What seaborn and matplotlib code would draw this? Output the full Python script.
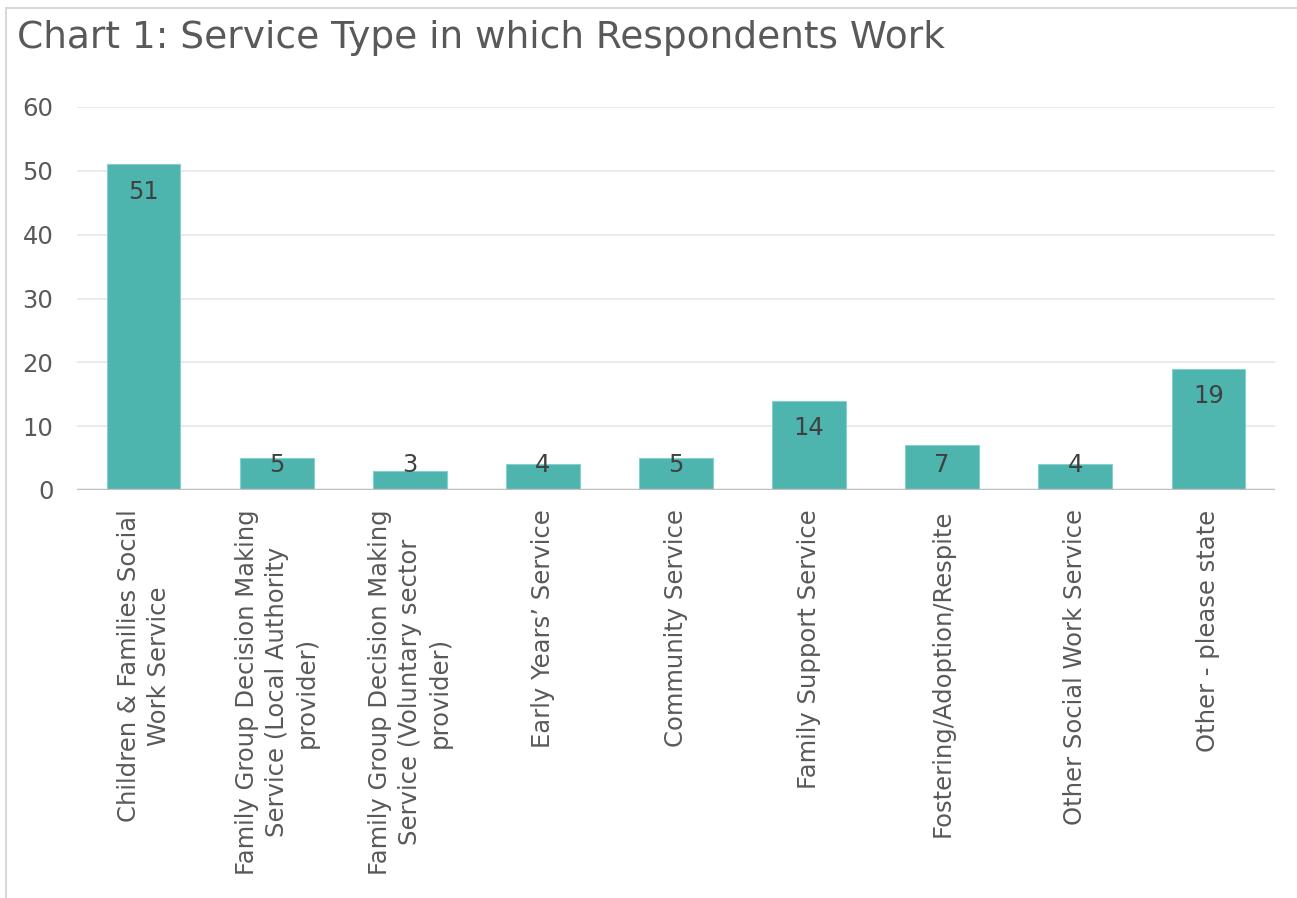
import matplotlib
matplotlib.use("Agg")
import matplotlib.pyplot as plt
import seaborn as sns
import pandas as pd
from matplotlib.lines import Line2D

categories = [
    "Children & Families Social\nWork Service",
    "Family Group Decision Making\nService (Local Authority\nprovider)",
    "Family Group Decision Making\nService (Voluntary sector\nprovider)",
    "Early Years\u2019 Service",
    "Community Service",
    "Family Support Service",
    "Fostering/Adoption/Respite",
    "Other Social Work Service",
    "Other - please state",
]
values = [51, 5, 3, 4, 5, 14, 7, 4, 19]
yticks = [0, 10, 20, 30, 40, 50, 60]
title = "Chart 1: Service Type in which Respondents Work"

df = pd.DataFrame({"category": categories, "value": values})

sns.set_theme(style="white")
plt.rcParams["font.family"] = ["DejaVu Sans"]

W, H = 1297, 898
fig = plt.figure(figsize=(W / 100, H / 100), dpi=100)
ax = fig.add_axes([77 / W, 1 - 490 / H, (1275 - 77) / W, (490 - 107) / H])

sns.barplot(data=df, x="category", y="value", ax=ax, color="#4DB4AE",
            saturation=1, width=0.555, edgecolor="#86CFCA", linewidth=0.8, zorder=3)

ax.set_ylim(0, 60)
ax.set_xlim(-0.5, len(categories) - 0.5)
ax.set_yticks(yticks)
ax.set_yticklabels([str(t) for t in yticks])
for t in yticks[1:]:
    ax.axhline(t, color="#EBEBEB", lw=1.5, zorder=1)
ax.axhline(0, color="#BFBFBF", lw=2.5, zorder=4)
for s in ax.spines.values():
    s.set_visible(False)
ax.set_xlabel("")
ax.set_ylabel("")
ax.tick_params(axis="y", length=0, pad=17, labelsize=17.5, labelcolor="#595959")
ax.tick_params(axis="x", length=0, pad=14, labelsize=17.5, labelcolor="#595959")
plt.setp(ax.get_xticklabels(), rotation=90, ha="center", va="top",
         multialignment="center", linespacing=1.32)

for i, v in enumerate(values):
    ypos = max(v - 4.3, 3.9)
    ax.text(i, ypos, str(v), ha="center", va="center", fontsize=17.5,
            color="#404040", zorder=5)

fig.text(17 / W, 1 - 38 / H, title, fontsize=27, color="#595959",
         ha="left", va="center")

fig.add_artist(Line2D([6 / W, 6 / W], [0, 1 - 8 / H], transform=fig.transFigure,
                      color="#D9D9D9", lw=1.5))
fig.add_artist(Line2D([6 / W, 1], [1 - 8 / H, 1 - 8 / H], transform=fig.transFigure,
                      color="#D9D9D9", lw=1.5))

fig.savefig("out.png", dpi=100, facecolor="white")
